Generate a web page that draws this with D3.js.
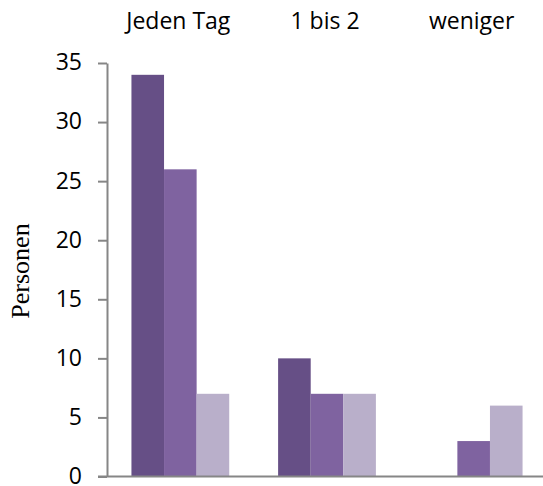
<!DOCTYPE html>
<html>
<head>
<meta charset="utf-8">
<script src="https://cdn.jsdelivr.net/npm/d3@7"></script>
<style>
  html, body { margin: 0; padding: 0; background: #fff; }
  svg { display: block; }
</style>
</head>
<body>
<svg id="chart" width="543" height="486"></svg>
<script>
const categories = ["Jeden Tag", "1 bis 2", "weniger"];
const seriesNames = ["Reihe 1", "Reihe 2", "Reihe 3"];
const series1 = [34, 10, 0];
const series2 = [26, 7, 3];
const series3 = [7, 7, 6];
const yTicks = [0, 5, 10, 15, 20, 25, 30, 35];
const colors = ["#664f86", "#7f63a0", "#b9afca"];

const svg = d3.select("#chart");
const mLeft = 107, mRight = 547, mTop = 63, mBottom = 476.5;

const x0 = d3.scaleBand().domain(categories).range([mLeft, mRight]).paddingInner(0).paddingOuter(0);
const x1 = d3.scaleBand().domain(seriesNames).range([0, x0.bandwidth()]).paddingInner(0).paddingOuter(0.75);
const y = d3.scaleLinear().domain([0, 35]).range([mBottom, mTop]);

const values = [series1, series2, series3];

// bars
const groups = svg.append("g").selectAll("g")
  .data(categories)
  .join("g")
  .attr("transform", d => `translate(${x0(d)},0)`);

groups.selectAll("rect")
  .data((c, i) => seriesNames.map((s, j) => ({ s, v: values[j][i], j })).filter(d => d.v > 0))
  .join("rect")
  .attr("x", d => x1(d.s))
  .attr("width", x1.bandwidth())
  .attr("y", d => y(d.v))
  .attr("height", d => y(0) - y(d.v))
  .attr("fill", d => colors[d.j]);

// y axis
const yAxis = svg.append("g")
  .attr("transform", `translate(${mLeft},0)`)
  .call(d3.axisLeft(y).tickValues(yTicks).tickSize(9).tickSizeOuter(0).tickPadding(16));
yAxis.select(".domain").attr("stroke", "#868686").attr("stroke-width", 2);
yAxis.selectAll(".tick line").attr("stroke", "#868686").attr("stroke-width", 2);
yAxis.selectAll(".tick text")
  .attr("font-family", "'Open Sans', sans-serif")
  .attr("font-size", 23)
  .attr("dy", "0.3em")
  .attr("fill", "#000");

// baseline (x axis)
svg.append("line")
  .attr("x1", mLeft - 9).attr("x2", mRight)
  .attr("y1", y(0)).attr("y2", y(0))
  .attr("stroke", "#868686").attr("stroke-width", 2);

// category labels at top
svg.append("g").selectAll("text")
  .data(categories)
  .join("text")
  .attr("x", d => x0(d) + x0.bandwidth() / 2 - 2)
  .attr("y", 29)
  .attr("text-anchor", "middle")
  .attr("font-family", "'Open Sans', sans-serif")
  .attr("font-size", 23)
  .attr("fill", "#000")
  .text(d => d);

// y axis title
svg.append("text")
  .attr("transform", `translate(29,271) rotate(-90)`)
  .attr("text-anchor", "middle")
  .attr("font-family", "'Liberation Serif', 'Times New Roman', serif")
  .attr("font-size", 26)
  .attr("fill", "#000")
  .text("Personen");
</script>
</body>
</html>
